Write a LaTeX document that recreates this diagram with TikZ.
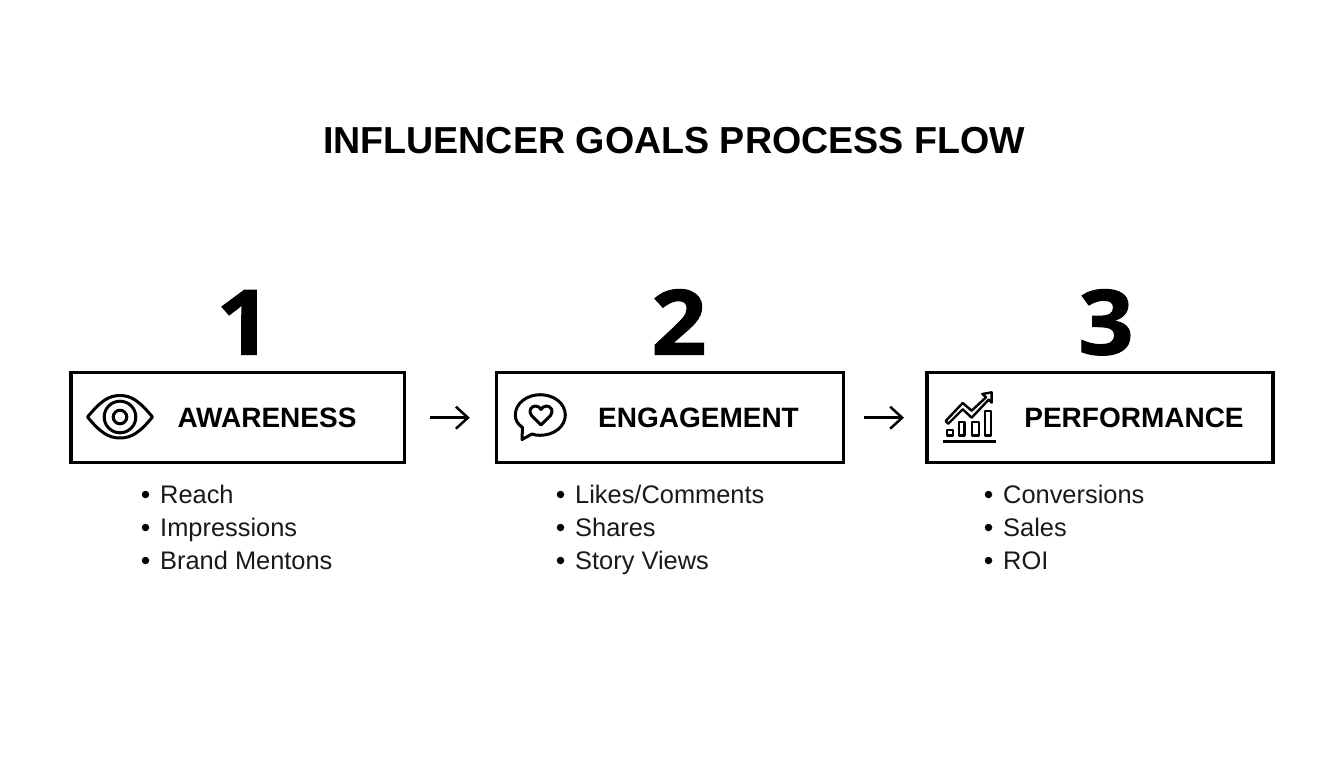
\documentclass[tikz,border=0pt]{standalone}
\usepackage{fontspec}
\usetikzlibrary{arrows.meta}
\setmainfont{Liberation Sans}
\newfontfamily\numfont[BoldFeatures={FakeBold=1.2,FakeStretch=1.08}]{Open Sans}
\tikzset{
  box/.style={draw=black,line width=3.2pt,fill=white,minimum height=90pt,inner sep=0pt,outer sep=0pt},
  titletext/.style={anchor=base,font=\fontsize{37.6}{38}\bfseries\selectfont,text=black,inner sep=0pt},
  numtext/.style={anchor=base,font=\fontsize{90}{90}\numfont\bfseries,text=black,inner sep=0pt},
  boxtext/.style={anchor=base,font=\fontsize{28}{28}\bfseries\selectfont,text=black,inner sep=0pt},
  item/.style={anchor=base west,font=\fontsize{25.4}{26}\selectfont,text=black!90,inner sep=0pt},
  dot/.style={circle,fill=black,minimum size=7.5pt,inner sep=0pt},
  flow/.style={line width=2.5pt,-{Straight Barb[length=12pt,width=22pt,line width=2.5pt]}},
  ico/.style={line width=3pt,draw=black,line join=round},
  chartline/.style={line width=2.4pt,draw=black,line join=round},
}
\begin{document}
\begin{tikzpicture}[x=1pt,y=-1pt]
\useasboundingbox (0,0) rectangle (1344,768);
\fill[white] (0,0) rectangle (1344,768);
\node[titletext] (title) at (674,153) {INFLUENCER GOALS PROCESS FLOW};
\node[numtext] (n1) at (244,354.5) {1};
\node[numtext] (n2) at (679,354.5) {2};
\node[numtext] (n3) at (1106,354.5) {3};
\node[box,minimum width=333.5pt] (b1) at (237.7,417.7) {};
\node[box,minimum width=346.5pt] (b2) at (670,417.7) {};
\node[box,minimum width=346pt] (b3) at (1100,417.7) {};
\node[boxtext] (t1) at (267,427.5) {AWARENESS};
\node[boxtext] (t2) at (698.5,427.5) {ENGAGEMENT};
\node[boxtext] (t3) at (1134,427.5) {PERFORMANCE};
\draw[flow,shorten <=26pt,shorten >=27pt] (b1) -- (b2);
\draw[flow,shorten <=21pt,shorten >=23pt] (b2) -- (b3);
% eye
\draw[ico] (87.5,417) .. controls (100,402) and (108,395.5) .. (120,395.5) .. controls (132,395.5) and (140,402) .. (152.5,417) .. controls (140,432) and (132,438) .. (120,438) .. controls (108,438) and (100,432) .. (87.5,417) -- cycle;
\draw[ico] (120,417) circle[radius=15.8];
\draw[ico] (120,417) circle[radius=6.8];
% bubble
\draw[ico] (522.5,427.5) .. controls (517.5,424) and (515.3,420) .. (515.3,415) .. controls (515.3,403.5) and (526.5,394.7) .. (540.3,394.7) .. controls (554,394.7) and (565.3,403.5) .. (565.3,415) .. controls (565.3,426.5) and (554,435.3) .. (540.3,435.3) .. controls (537,435.3) and (534.5,435) .. (532,434) -- (522,439.5) -- cycle;
\draw[ico] (541,425) -- (531.5,415.5) .. controls (528,411) and (531,406) .. (535.5,406) .. controls (538,406) and (540,407.5) .. (541,409.5) .. controls (542,407.5) and (544,406) .. (546.5,406) .. controls (551,406) and (554,411) .. (550.5,415.5) -- cycle;
% chart
\begin{scope}[shift={(920,365)},x=0.3333pt,y=-0.3333pt]
\draw[chartline] (77,168) -- (128,114) -- (155,137) -- (198,97) -- (187,87) -- (215,82) -- (215,113) -- (206,104) -- (155,158) -- (128,133) -- (85,176) -- cycle;
\draw[chartline] (81.5,195.5) rectangle (99.5,211.5);
\draw[chartline] (116.5,171.5) rectangle (133.5,211.5);
\draw[chartline] (155.5,171.5) rectangle (176.5,211.5);
\draw[chartline] (195.5,138.5) rectangle (213.5,211.5);
\draw[ico] (68,230) -- (228,230);
\end{scope}
% lists
\foreach \nm/\dx/\dy/\tx in {a/160/503/Reach,b/160/536/Impressions,c/160/569/Brand Mentons,d/575/503/{Likes/Comments},e/575/536/Shares,f/575/569/Story Views,g/1003/503/Conversions,h/1003/536/Sales,i/1003/569/ROI}{
  \node[item] (l\nm) at (\dx,\dy) {\tx};
  \node[dot] (p\nm) at (\dx-14.5,\dy-8.5) {};
}
\end{tikzpicture}
\end{document}
